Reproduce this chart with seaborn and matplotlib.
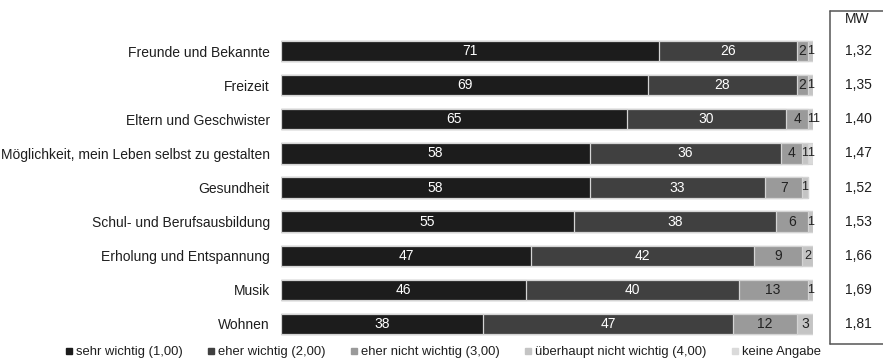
import matplotlib
matplotlib.use("Agg")
import matplotlib.pyplot as plt
from matplotlib.lines import Line2D
import numpy as np
import pandas as pd
import seaborn as sns

# Werte in Prozent je Lebensbereich
categories = [
    "Freunde und Bekannte",
    "Freizeit",
    "Eltern und Geschwister",
    "Möglichkeit, mein Leben selbst zu gestalten",
    "Gesundheit",
    "Schul- und Berufsausbildung",
    "Erholung und Entspannung",
    "Musik",
    "Wohnen",
]
sehr_wichtig = [71, 69, 65, 58, 58, 55, 47, 46, 38]
eher_wichtig = [26, 28, 30, 36, 33, 38, 42, 40, 47]
eher_nicht_wichtig = [2, 2, 4, 4, 7, 6, 9, 13, 12]
ueberhaupt_nicht_wichtig = [1, 1, 1, 1, 1, 1, 2, 1, 3]
keine_angabe = [0, 0, 1, 1, 0, 0, 0, 0, 0]
mittelwerte = ["1,32", "1,35", "1,40", "1,47", "1,52", "1,53", "1,66", "1,69", "1,81"]

series_names = [
    "sehr wichtig (1,00)",
    "eher wichtig (2,00)",
    "eher nicht wichtig (3,00)",
    "überhaupt nicht wichtig (4,00)",
    "keine Angabe",
]
series_values = [sehr_wichtig, eher_wichtig, eher_nicht_wichtig,
                 ueberhaupt_nicht_wichtig, keine_angabe]
colors = ["#1c1c1c", "#404040", "#9a9a9a", "#c4c4c4", "#dadada"]
text_colors = ["white", "white", "#222222", "#222222", "#222222"]

sns.set_theme(style="white")
plt.rcParams["font.family"] = ["Liberation Sans", "DejaVu Sans"]

W, H = 883, 360
fig = plt.figure(figsize=(W / 100, H / 100), dpi=100)

def fx(px):
    return px / W

def fy(py):
    return 1 - py / H

row_h = 34.1
top_px = 51 - row_h / 2
bot_px = 324 + row_h / 2
ax = fig.add_axes([fx(281), fy(bot_px), fx(813) - fx(281), (bot_px - top_px) / H])

data = pd.DataFrame({"Bereich": categories})
cums = np.cumsum(np.array(series_values, dtype=float), axis=0)
for i, name in enumerate(series_names):
    data[name] = cums[i]

# Gestapelte Balken: kumulierte Summen von hinten nach vorne übereinander zeichnen
for i in reversed(range(len(series_names))):
    sns.barplot(data=data, x=series_names[i], y="Bereich", orient="h",
                color=colors[i], width=0.6, edgecolor="#d4d4d4",
                linewidth=0.9, saturation=1, ax=ax)

# Wertebeschriftungen in der Mitte jedes Segments
for i in range(len(series_names)):
    for r in range(len(categories)):
        v = series_values[i][r]
        if v == 0:
            continue
        center = cums[i][r] - v / 2
        small = v <= 2 and i >= 3
        ax.text(center, r, str(v), ha="center", va="center",
                fontsize=9 if small else 10, color=text_colors[i])

ax.set_xlim(0, 100)
ax.set_ylim(len(categories) - 0.5, -0.5)
ax.set_xlabel("")
ax.set_ylabel("")
ax.set_xticks([])
ax.tick_params(axis="y", length=0, pad=8, labelsize=10, labelcolor="#1e1e1e")
for s in ax.spines.values():
    s.set_visible(False)

# Spalte mit Mittelwerten
trans = matplotlib.transforms.blended_transform_factory(fig.transFigure, ax.transData)
for r, mw in enumerate(mittelwerte):
    ax.text(fx(858), r, mw, transform=trans, ha="center", va="center",
            fontsize=10, color="#1e1e1e")
fig.text(fx(857), fy(19), "MW", ha="center", va="center", fontsize=10, color="#1e1e1e")
box_kw = dict(color="#555555", linewidth=1.1, transform=fig.transFigure)
fig.add_artist(Line2D([fx(830), fx(830)], [fy(11), fy(344)], **box_kw))
fig.add_artist(Line2D([fx(830), fx(884)], [fy(11), fy(11)], **box_kw))
fig.add_artist(Line2D([fx(830), fx(884)], [fy(344), fy(344)], **box_kw))

# Legende
handles = [Line2D([], [], marker="s", linestyle="none", markersize=4.5,
                  markerfacecolor=c, markeredgecolor=c) for c in colors]
fig.legend(handles, series_names, loc="center", bbox_to_anchor=(fx(443), fy(352)),
           ncol=5, frameon=False, fontsize=9.4, handlelength=0.6,
           handletextpad=0.25, columnspacing=1.85, borderpad=0, labelcolor="#1e1e1e")

fig.savefig("out.png", dpi=100)
